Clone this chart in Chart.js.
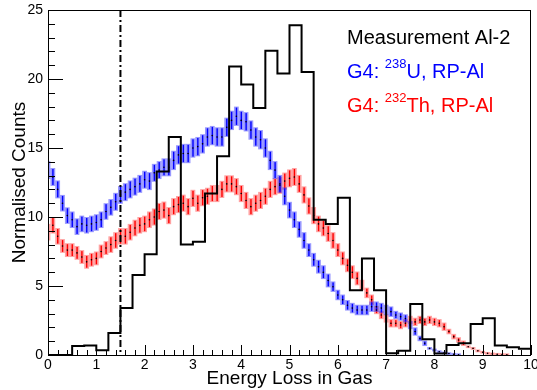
<!DOCTYPE html>
<html>
<head>
<meta charset="utf-8">
<script src="https://cdn.jsdelivr.net/npm/chart.js@4.4.0/dist/chart.umd.min.js"></script>
<style>
  html, body { margin: 0; padding: 0; background: #fff; }
</style>
</head>
<body>
<canvas id="chart" width="537" height="390"></canvas>
<script>
// measured spectrum, 0.25 wide bins (left edges)
var histEdges = [0, 0.25, 0.5, 0.75, 1, 1.25, 1.5, 1.75, 2, 2.25,
  2.5, 2.75, 3, 3.25, 3.5, 3.75, 4, 4.25, 4.5, 4.75,
  5, 5.25, 5.5, 5.75, 6, 6.25, 6.5, 6.75, 7, 7.25,
  7.5, 7.75, 8, 8.25, 8.5, 8.75, 9, 9.25, 9.5, 9.75];
var histCounts = [0, 0, 0.65, 0.68, 0.35, 1.6, 3.4, 5.8, 7.3, 13.3,
  15.8, 8.0, 8.2, 11.7, 14.4, 20.9, 19.6, 17.9, 22.05, 20.4,
  23.9, 20.5, 9.8, 9.5, 11.4, 4.7, 7.0, 4.7, 0.12, 0.3,
  3.7, 1.14, 0.1, 0.72, 0.85, 2.25, 2.66, 0.68, 0.56, 0.46];

// simulation energy points
var simEnergy = [0, 0.1, 0.2, 0.3, 0.4, 0.5, 0.6, 0.7, 0.8, 0.9,
  1, 1.1, 1.2, 1.3, 1.4, 1.5, 1.6, 1.7, 1.8, 1.9,
  2, 2.1, 2.2, 2.3, 2.4, 2.5, 2.6, 2.7, 2.8, 2.9,
  3, 3.1, 3.2, 3.3, 3.4, 3.5, 3.6, 3.7, 3.8, 3.9,
  4, 4.1, 4.2, 4.3, 4.4, 4.5, 4.6, 4.7, 4.8, 4.9,
  5, 5.1, 5.2, 5.3, 5.4, 5.5, 5.6, 5.7, 5.8, 5.9,
  6, 6.1, 6.2, 6.3, 6.4, 6.5, 6.6, 6.7, 6.8, 6.9,
  7, 7.1, 7.2, 7.3, 7.4, 7.5, 7.6, 7.7, 7.8, 7.9,
  8, 8.1, 8.2, 8.3, 8.4, 8.5, 8.6, 8.7, 8.8, 8.9,
  9, 9.1, 9.2, 9.3, 9.4, 9.5];

// G4 238U
var uranium = [13.4, 12.9, 12.0, 11.0, 10.1, 9.8, 9.3, 9.5, 9.4, 9.5,
  9.6, 9.8, 10.4, 10.7, 11.1, 11.6, 11.8, 12.0, 12.2, 12.4,
  12.7, 12.6, 13.2, 13.4, 13.6, 13.6, 14.1, 14.5, 14.6, 14.6,
  15.0, 15.1, 15.3, 15.8, 15.9, 15.8, 15.8, 16.5, 17.0, 17.3,
  17.0, 16.9, 16.3, 15.8, 15.6, 15.0, 14.1, 13.4, 12.4, 11.5,
  10.5, 9.8, 9.1, 8.3, 7.6, 6.9, 6.4, 6.0, 5.4, 4.95,
  4.35, 4.0, 3.6, 3.4, 3.26, 3.26, 3.26, 3.5, 3.5, 3.4,
  3.26, 3.14, 2.9, 2.78, 2.65, 2.17, 1.7, 1.2, 0.85, 0.48,
  0.36, 0.24, 0.15, 0.1, 0.05, 0.02];
// half-height of the visible error band
var uraniumErr = [0.65, 0.65, 0.65, 0.6, 0.6, 0.6, 0.6, 0.6, 0.6, 0.6,
  0.6, 0.6, 0.6, 0.6, 0.65, 0.65, 0.65, 0.65, 0.65, 0.65,
  0.65, 0.65, 0.65, 0.65, 0.65, 0.65, 0.7, 0.7, 0.7, 0.7,
  0.7, 0.7, 0.7, 0.7, 0.7, 0.7, 0.7, 0.7, 0.7, 0.7,
  0.7, 0.7, 0.7, 0.7, 0.7, 0.7, 0.7, 0.65, 0.65, 0.65,
  0.6, 0.6, 0.6, 0.6, 0.5, 0.5, 0.5, 0.5, 0.5, 0.38,
  0.38, 0.38, 0.38, 0.38, 0.38, 0.38, 0.38, 0.38, 0.38, 0.38,
  0.38, 0.38, 0.3, 0.3, 0.3, 0.3, 0.3, 0.2, 0.2, 0.1,
  0.1, 0.1, 0.1, 0.1, 0.1, 0.1];

// G4 232Th
var thorium = [8.9, 9.4, 8.6, 7.9, 7.6, 7.6, 7.4, 7.1, 6.75, 6.9,
  7.0, 7.5, 7.75, 8.0, 8.3, 8.6, 8.6, 8.9, 9.2, 9.4,
  9.5, 9.8, 10.0, 10.4, 10.5, 10.1, 10.75, 10.9, 11.0, 10.75,
  11.35, 11.0, 11.4, 11.5, 11.7, 11.7, 12.0, 12.4, 12.4, 12.2,
  11.7, 11.2, 10.75, 11.0, 11.2, 11.5, 12.0, 12.2, 12.3, 12.6,
  12.8, 12.9, 12.4, 11.6, 10.8, 10.1, 9.5, 9.2, 8.8, 8.3,
  7.6, 7.0, 6.5, 6.0, 5.55, 5.07, 4.5, 4.0, 3.26, 2.9,
  2.65, 2.3, 2.3, 2.17, 2.3, 2.54, 2.4, 2.54, 2.4, 2.54,
  2.4, 2.3, 2.05, 1.7, 1.33, 1.09, 0.85, 0.6, 0.48, 0.3,
  0.2, 0.12, 0.08, 0.05, 0.03, 0.02];
var thoriumErr = [0.6, 0.6, 0.6, 0.5, 0.5, 0.5, 0.5, 0.5, 0.5, 0.5,
  0.5, 0.5, 0.5, 0.6, 0.6, 0.6, 0.6, 0.6, 0.6, 0.6,
  0.6, 0.6, 0.62, 0.62, 0.62, 0.62, 0.62, 0.62, 0.62, 0.62,
  0.62, 0.62, 0.62, 0.62, 0.62, 0.62, 0.62, 0.62, 0.62, 0.62,
  0.62, 0.62, 0.62, 0.62, 0.62, 0.62, 0.62, 0.62, 0.62, 0.62,
  0.65, 0.65, 0.65, 0.62, 0.62, 0.62, 0.6, 0.6, 0.6, 0.6,
  0.5, 0.5, 0.5, 0.5, 0.5, 0.38, 0.38, 0.38, 0.3, 0.3,
  0.3, 0.3, 0.3, 0.3, 0.3, 0.3, 0.3, 0.3, 0.3, 0.3,
  0.3, 0.3, 0.3, 0.2, 0.2, 0.2, 0.2, 0.1, 0.1, 0.1,
  0.1, 0.1, 0.1, 0.1, 0.1, 0.1];

var cutEnergy = 1.5;
var FONT = '"Liberation Sans", Arial, Helvetica, sans-serif';

function pts(xs, ys) {
  var out = [];
  for (var i = 0; i < ys.length; i++) out.push({ x: xs[i], y: ys[i] });
  return out;
}

var histData = pts(histEdges, histCounts);
histData.push({ x: 10, y: histCounts[histCounts.length - 1] });

// error bars behind the points
var errorBars = {
  id: 'errorBars',
  beforeDatasetsDraw: function(chart) {
    var ctx = chart.ctx, xs = chart.scales.x, ys = chart.scales.y, a = chart.chartArea;
    var sets = [
      { v: thorium, e: thoriumErr, solid: '#ff0000', light: 'rgba(255,70,70,0.5)' },
      { v: uranium, e: uraniumErr, solid: '#0000ff', light: 'rgba(50,50,255,0.5)' }
    ];
    ctx.save();
    ctx.beginPath();
    ctx.rect(a.left, a.top, a.right - a.left, a.bottom - a.top);
    ctx.clip();
    sets.forEach(function(s) {
      for (var i = 0; i < s.v.length; i++) {
        var px = xs.getPixelForValue(simEnergy[i]);
        var y1 = ys.getPixelForValue(s.v[i] + s.e[i]);
        var y2 = ys.getPixelForValue(Math.max(s.v[i] - s.e[i], 0));
        ctx.fillStyle = s.light;
        ctx.fillRect(px - 2.4, y1, 4.8, y2 - y1);
        ctx.fillStyle = s.solid;
        ctx.fillRect(px - 0.6, y1 + 1, 1.4, y2 - y1 - 2);
      }
    });
    ctx.restore();
  }
};

// ROOT style frame, inward ticks, cut line and legend text
var rootFrame = {
  id: 'rootFrame',
  afterDatasetsDraw: function(chart) {
    var ctx = chart.ctx, xs = chart.scales.x, ys = chart.scales.y, a = chart.chartArea;
    ctx.save();
    ctx.strokeStyle = '#000';
    ctx.lineWidth = 1;
    ctx.beginPath();
    var v, p;
    for (v = 0; v <= 10.001; v += 0.2) {
      p = Math.round(xs.getPixelForValue(v)) + 0.5;
      var major = Math.abs(v - Math.round(v)) < 0.01;
      ctx.moveTo(p, a.bottom);
      ctx.lineTo(p, a.bottom - (major ? 10 : 5));
    }
    for (v = 0; v <= 25; v += 1) {
      p = Math.round(ys.getPixelForValue(v)) + 0.5;
      ctx.moveTo(a.left, p);
      ctx.lineTo(a.left + (v % 5 === 0 ? 15 : 7), p);
    }
    ctx.stroke();
    ctx.strokeRect(Math.round(a.left) + 0.5, Math.round(a.top) + 0.5,
      Math.round(a.right - a.left) - 1, Math.round(a.bottom - a.top));

    // dash-dot cut line
    var cx = xs.getPixelForValue(cutEnergy);
    ctx.lineWidth = 2;
    ctx.setLineDash([7, 3, 2, 3]);
    ctx.beginPath();
    ctx.moveTo(cx, ys.getPixelForValue(25));
    ctx.lineTo(cx, ys.getPixelForValue(0));
    ctx.stroke();
    ctx.setLineDash([]);

    // legend
    var lx = 347;
    ctx.textBaseline = 'alphabetic';
    ctx.textAlign = 'left';
    ctx.font = '20px ' + FONT;
    ctx.fillStyle = '#000';
    ctx.fillText('Measurement Al-2', lx, 44);
    [['#0000ff', '238', 'U, RP-Al', 78], ['#ff0000', '232', 'Th, RP-Al', 112]].forEach(function(l) {
      ctx.fillStyle = l[0];
      ctx.font = '20px ' + FONT;
      var w = ctx.measureText('G4: ').width;
      ctx.fillText('G4: ', lx, l[3]);
      ctx.font = '13px ' + FONT;
      ctx.fillText(l[1], lx + w, l[3] - 10);
      var w2 = ctx.measureText(l[1]).width;
      ctx.font = '20px ' + FONT;
      ctx.fillText(l[2], lx + w + w2, l[3]);
    });
    ctx.restore();
  }
};

new Chart(document.getElementById('chart').getContext('2d'), {
  type: 'line',
  data: {
    datasets: [
      { label: 'Measurement Al-2', data: histData, stepped: true, borderColor: '#000',
        borderWidth: 2, pointRadius: 0, fill: false },
      { label: 'G4: 238U, RP-Al', data: pts(simEnergy, uranium), showLine: false,
        pointRadius: 0.8, pointBorderWidth: 0, pointBackgroundColor: '#000' },
      { label: 'G4: 232Th, RP-Al', data: pts(simEnergy, thorium), showLine: false,
        pointRadius: 0.8, pointBorderWidth: 0, pointBackgroundColor: '#000' }
    ]
  },
  options: {
    responsive: false,
    animation: false,
    layout: { padding: { left: 0, right: 6, top: 10, bottom: 0 } },
    plugins: { legend: { display: false }, tooltip: { enabled: false } },
    scales: {
      x: {
        type: 'linear', min: 0, max: 10,
        border: { display: false },
        grid: { display: false, drawTicks: false },
        ticks: { stepSize: 1, color: '#000', font: { family: FONT, size: 14 }, padding: 2, maxRotation: 0, autoSkip: false },
        title: { display: true, text: 'Energy Loss in Gas', color: '#000', font: { family: FONT, size: 19 }, padding: 0 },
        afterFit: function(s) { s.height = 35; s.paddingLeft = 0; s.paddingRight = 0; }
      },
      y: {
        min: 0, max: 25,
        border: { display: false },
        grid: { display: false, drawTicks: false },
        ticks: { stepSize: 5, color: '#000', font: { family: FONT, size: 14 }, padding: 5 },
        title: { display: true, text: 'Normalised Counts', color: '#000', font: { family: FONT, size: 19 }, padding: { top: 8, bottom: 0 } },
        afterFit: function(s) { s.width = 48; s.paddingTop = 0; s.paddingBottom = 0; }
      }
    }
  },
  plugins: [errorBars, rootFrame]
});
</script>
</body>
</html>
